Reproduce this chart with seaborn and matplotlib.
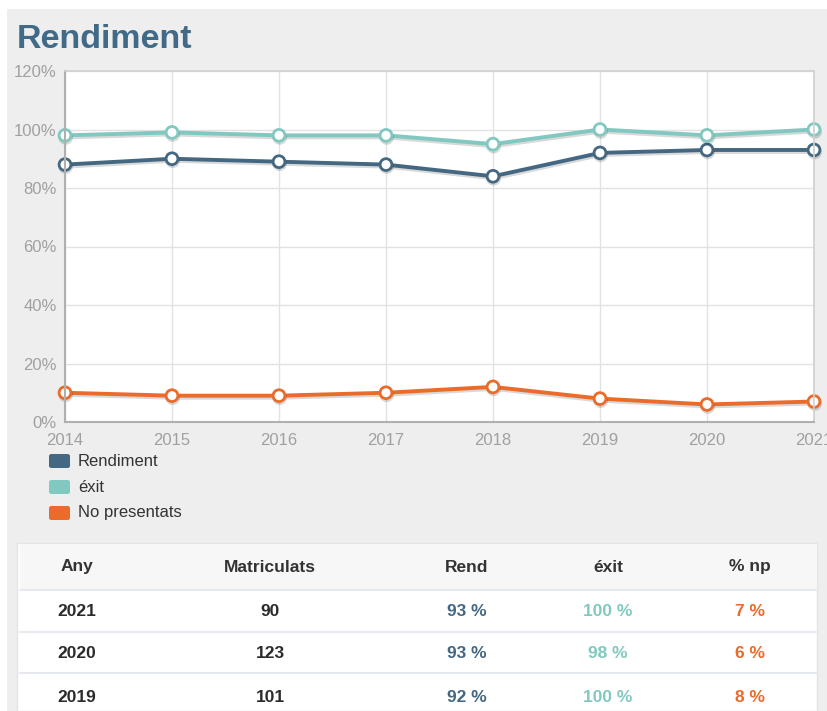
import pandas as pd
import matplotlib.pyplot as plt
import matplotlib.patheffects as pe
from matplotlib.patches import Rectangle, FancyBboxPatch
import seaborn as sns

years = [2014, 2015, 2016, 2017, 2018, 2019, 2020, 2021]
rendiment = [88, 90, 89, 88, 84, 92, 93, 93]
exit_ = [98, 99, 98, 98, 95, 100, 98, 100]
no_presentats = [10, 9, 9, 10, 12, 8, 6, 7]

series_names = ['Rendiment', 'éxit', 'No presentats']
colors = ['#446782', '#80c8c0', '#ea6b2a']

table_cols = ['Any', 'Matriculats', 'Rend', 'éxit', '% np']
table_years = [2021, 2020, 2019]
table_matr = [90, 123, 101]
table_rend = [93, 93, 92]
table_exit = [100, 98, 100]
table_np = [7, 6, 8]

df = pd.DataFrame({
    'Any': years * 3,
    'valor': rendiment + exit_ + no_presentats,
    'serie': [s for s in series_names for _ in years],
})

sns.set_style('white')
plt.rcParams['font.family'] = ['Liberation Sans', 'DejaVu Sans']

W, H = 828, 711
fig = plt.figure(figsize=(W / 100, H / 100), dpi=100, facecolor='white')

def fx(px):
    return px / W

def fy(py):
    return 1 - py / H

# grey panel behind everything
fig.patches.append(Rectangle((fx(7), 0), 1 - fx(7), fy(9), transform=fig.transFigure,
                             facecolor='#eeeeee', edgecolor='none', zorder=-5))

fig.text(fx(17), fy(40), 'Rendiment', fontsize=24.5, fontweight='bold', color='#416a89',
         va='center', ha='left')

ax = fig.add_axes([fx(65), fy(422), fx(814) - fx(65), fy(71) - fy(422)])
ax.set_zorder(3)
ax.set_facecolor('white')
sns.lineplot(data=df, x='Any', y='valor', hue='serie', hue_order=series_names,
             palette=colors, marker='o', markersize=8.5, markerfacecolor='white',
             markeredgewidth=2, linewidth=2.8, legend=False, ax=ax, clip_on=False)
for line in ax.lines:
    line.set_markeredgecolor(line.get_color())
    line.set_path_effects([pe.SimpleLineShadow(offset=(0.5, -1.5), alpha=0.15), pe.Normal()])

ax.set_xlim(2014, 2021)
ax.set_ylim(0, 120)
ax.set_xticks(years)
ax.set_yticks(range(0, 121, 20))
ax.set_yticklabels([f'{v}%' for v in range(0, 121, 20)])
ax.tick_params(axis='both', labelsize=12, labelcolor='#a0a0a0', length=0)
ax.tick_params(axis='y', pad=6)
ax.tick_params(axis='x', pad=8)
ax.grid(True, color='#e2e2e2', linewidth=1)
ax.set_axisbelow(True)
ax.set_xlabel('')
ax.set_ylabel('')
for side in ['left', 'bottom']:
    ax.spines[side].set_color('#b0b0b0')
    ax.spines[side].set_linewidth(1.5)
for side in ['top', 'right']:
    ax.spines[side].set_color('#d0d0d0')
    ax.spines[side].set_linewidth(1.2)

# legend swatches
for i, (name, c) in enumerate(zip(series_names, colors)):
    yc = 461 + i * 26
    fig.patches.append(FancyBboxPatch((fx(49), fy(yc + 7)), fx(70) - fx(49), fy(yc - 7) - fy(yc + 7),
                                      boxstyle='round,pad=0,rounding_size=0.003',
                                      transform=fig.transFigure, facecolor=c,
                                      edgecolor='none', zorder=2))
    fig.text(fx(78), fy(yc), name, fontsize=12, color='#333333', va='center', ha='left')

# table
fig.patches.append(Rectangle((fx(17), 0), fx(817) - fx(17), fy(543), transform=fig.transFigure,
                             facecolor='white', edgecolor='#e4e4e4', zorder=1))
fig.patches.append(Rectangle((fx(20), fy(590)), fx(817) - fx(20), fy(545) - fy(590),
                             transform=fig.transFigure, facecolor='#f7f7f7', edgecolor='none', zorder=1))
for sep in [590, 632, 673]:
    fig.lines.append(plt.Line2D([fx(20), fx(817)], [fy(sep), fy(sep)], transform=fig.transFigure,
                                color='#e6eaf0', linewidth=1.5, zorder=2))

col_x = [77, 270, 467, 608, 750]
for x, name in zip(col_x, table_cols):
    fig.text(fx(x), fy(567), name, fontsize=12.5, fontweight='bold', color='#333333',
             ha='center', va='center')

row_y = [612, 654, 697]
for i, yr in enumerate(table_years):
    vals = [str(yr), str(table_matr[i]), f'{table_rend[i]} %', f'{table_exit[i]} %', f'{table_np[i]} %']
    cols = ['#2b2b2b', '#2b2b2b', colors[0], colors[1], colors[2]]
    for x, v, c in zip(col_x, vals, cols):
        fig.text(fx(x), fy(row_y[i]), v, fontsize=12.5, fontweight='bold', color=c,
                 ha='center', va='center')

fig.savefig('out.png', dpi=100, facecolor=fig.get_facecolor())
